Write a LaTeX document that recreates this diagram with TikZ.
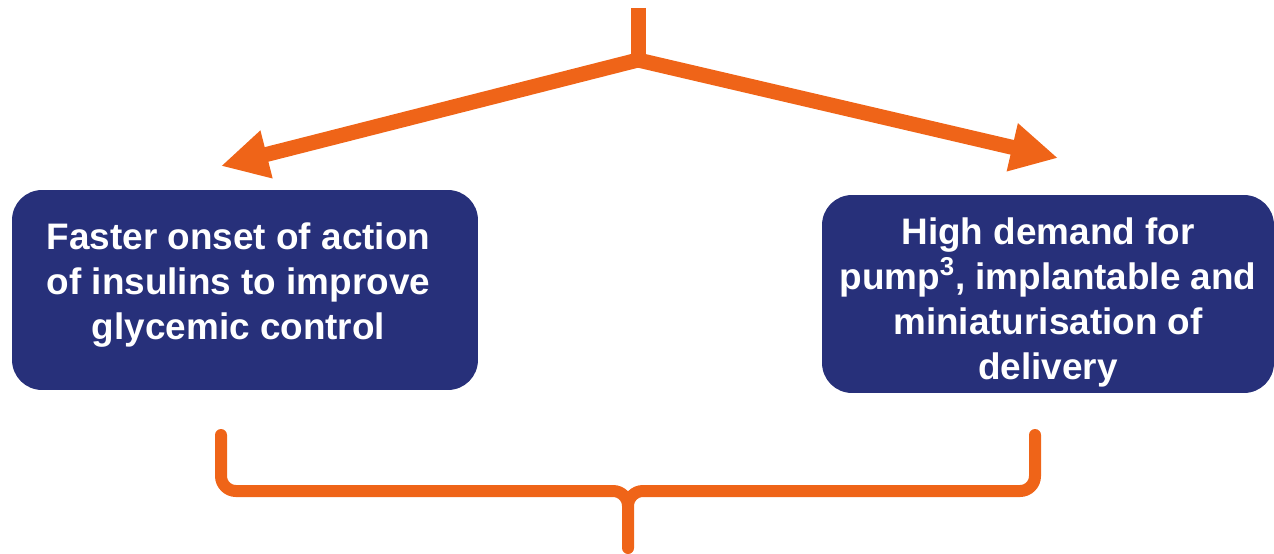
\documentclass[tikz,border=0pt]{standalone}
\usepackage{fontspec}
\setmainfont{Liberation Sans}
\usetikzlibrary{arrows.meta}
\definecolor{navy}{HTML}{27307A}
\definecolor{flame}{HTML}{EF6418}
\begin{document}
\begin{tikzpicture}[x=0.02cm, y=-0.02cm,
		box/.style = {fill=navy, rounded corners=0.6cm, inner sep=0pt},
		boxtext/.style = {text=white, align=center, inner sep=0pt,
			font=\fontsize{21}{25.6}\selectfont\bfseries},
		arrow/.style = {draw=flame, line width=0.3cm, line join=miter},
		brace/.style = {draw=flame, line width=0.24cm, rounded corners=0.3cm, line cap=round}]
				\useasboundingbox (0,0) rectangle (1274,554);

				\coordinate (top) at (638,8);
				\coordinate (apex) at (638,60);
				\coordinate (lefttip) at (221,166);
				\coordinate (righttip) at (1058,158);

				\node[box, minimum width=9.32cm, minimum height=4cm,
					label={[boxtext, xshift=-0.13cm, yshift=0.1cm]center:{Faster onset of action\\of insulins to improve\\glycemic control}}]
					(faster) at (245,290) {};
				\node[box, minimum width=9.04cm, minimum height=3.96cm,
					label={[boxtext, yshift=-0.16cm]center:{High demand for\\pump\textsuperscript{3}, implantable and\\miniaturisation of\\delivery}}]
					(demand) at (1048,294) {};

				\draw[arrow] (top) -- (apex);
				\draw[arrow, {Triangle[length=0.94cm,width=0.92cm]}-{Triangle[length=0.94cm,width=0.92cm]}]
					(lefttip) -- (apex) -- (righttip);

				\coordinate (bl) at (221,435);
				\coordinate (br) at (1035,435);
				\coordinate (bm) at (628,548);
				\draw[brace] (bl) -- (221,491) -- (628,491) -- (bm)
					(br) -- (1035,491) -- (628,491) -- (bm);
\end{tikzpicture}
\end{document}
